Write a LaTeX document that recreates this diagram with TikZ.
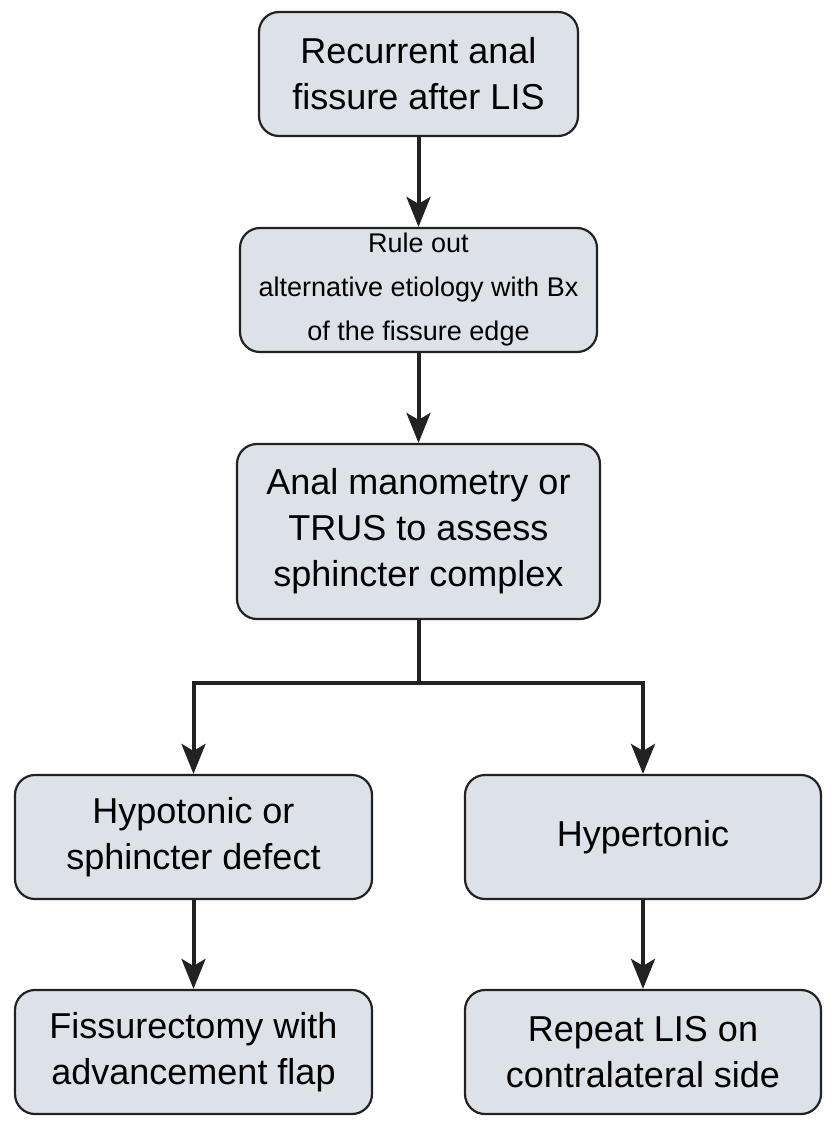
\documentclass[tikz,border=0pt]{standalone}
\usepackage{fontspec}
\setmainfont{Liberation Sans}
\usetikzlibrary{arrows.meta}
\definecolor{boxfill}{HTML}{DDE1E8}
\definecolor{boxline}{HTML}{222222}
\begin{document}
\begin{tikzpicture}[x=1pt,y=-1pt,
  box/.style={draw=boxline, line width=2.2pt, fill=boxfill, rounded corners=20pt,
    align=center, inner sep=0pt, text=black},
  big/.style={font=\fontsize{36}{46}\selectfont},
  small/.style={font=\fontsize{27}{44}\selectfont},
  conn/.style={line width=4pt, draw=boxline},
  arr/.style={conn, -{Stealth[length=30pt,width=24pt,inset=7pt]}}]
\useasboundingbox (0,0) rectangle (834,1128);
\node[box, big, minimum width=319pt, minimum height=124pt] (b1) at (418.5,74) {Recurrent anal\\fissure after LIS};
\node[box, small, minimum width=357pt, minimum height=124pt] (b2) at (418.5,290) {Rule out\\alternative etiology with Bx\\of the fissure edge};
\node[box, big, minimum width=363pt, minimum height=175pt] (b3) at (418.5,531.5) {Anal manometry or\\TRUS to assess\\sphincter complex};
\node[box, big, minimum width=357pt, minimum height=124pt] (b4) at (193.5,837) {Hypotonic or\\sphincter defect};
\node[box, big, minimum width=356pt, minimum height=124pt] (b5) at (643,837) {Hypertonic};
\node[box, big, minimum width=357pt, minimum height=124pt] (b6) at (193.5,1052) {Fissurectomy with\\advancement flap};
\node[box, big, minimum width=356pt, minimum height=124pt] (b7) at (643,1052) {Repeat LIS on\\contralateral side};
\coordinate (j) at (418.5,683);
\draw[arr] (b1) -- (b2);
\draw[arr] (b2) -- (b3);
\draw[conn] (b3.south) -- (j);
\draw[arr] (j) -| (b4.north);
\draw[arr] (j) -| (b5.north);
\draw[arr] (b4) -- (b6);
\draw[arr] (b5) -- (b7);
\end{tikzpicture}
\end{document}
